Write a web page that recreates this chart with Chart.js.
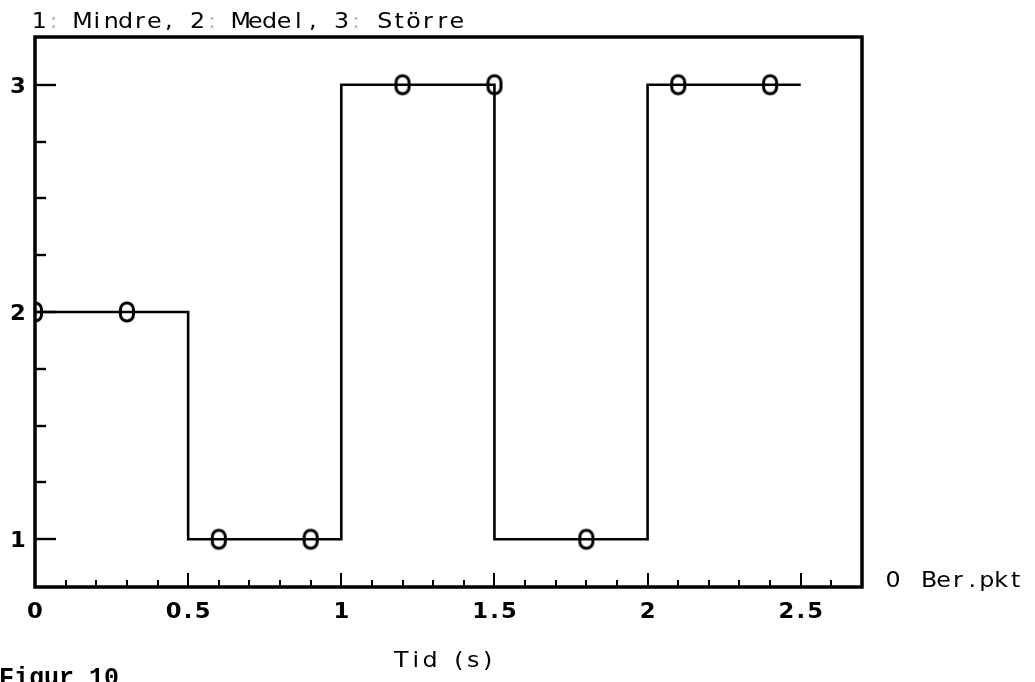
<!DOCTYPE html>
<html>
<head>
<meta charset="utf-8">
<script src="https://cdn.jsdelivr.net/npm/chart.js@4/dist/chart.umd.min.js"></script>
<style>
  html, body { margin: 0; padding: 0; background: #fff; }
  #wrap { width: 1035px; height: 682px; position: relative; }
</style>
</head>
<body>
<div id="wrap"><canvas id="c" width="1035" height="682"></canvas></div>
<script>
// Step signal: level 1 = Mindre, 2 = Medel, 3 = Större
const stepTimes  = [0, 0.5, 1, 1.5, 2, 2.5];
const stepLevels = [2, 1, 3, 1, 3, 3];

// Computed points ("Ber.pkt")
const pointTimes  = [0, 0.3, 0.6, 0.9, 1.2, 1.5, 1.8, 2.1, 2.4];
const pointLevels = [2, 2, 1, 1, 3, 3, 1, 3, 3];

// Axis ticks
const xTickValues = [0, 0.5, 1, 1.5, 2, 2.5];
const xTickLabels = ['0', '0.5', '1', '1.5', '2', '2.5'];
const yTickValues = [1, 2, 3];
const yTickLabels = ['1', '2', '3'];

const titleText  = '1: Mindre, 2: Medel, 3: Större';
const xTitleText = 'Tid (s)';
const legendText = 'Ber.pkt';
const figText    = 'Figur 10';

const FONT_LIGHT = '22px "DejaVu Sans"';
const FONT_BOLD  = 'bold 21px "DejaVu Sans"';
const CELL = 14.4;
const STRETCH = 1.08;

// Plotter-style text: every character sits in a fixed-width cell, slightly widened
function cellText(ctx, text, x, y, align, faintColons) {
  const total = text.length * CELL;
  const x0 = align === 'center' ? x - total / 2 : align === 'right' ? x - total : x;
  ctx.textAlign = 'center';
  for (let i = 0; i < text.length; i++) {
    const ch = text[i];
    ctx.fillStyle = (faintColons && ch === ':') ? '#b8b8b8' : '#000';
    ctx.save();
    ctx.translate(x0 + CELL * i + CELL / 2, y);
    ctx.scale(STRETCH, 1);
    ctx.fillText(ch, 0, 0);
    ctx.restore();
  }
}

// Marker: rounded "0" outline
function makeMarker() {
  const m = document.createElement('canvas');
  m.width = 18; m.height = 24;
  const g = m.getContext('2d');
  g.strokeStyle = '#000';
  g.lineWidth = 3;
  g.beginPath();
  g.roundRect(2.5, 3, 13, 18, 6.3);
  g.stroke();
  return m;
}

const framePlugin = {
  id: 'frame',
  afterDatasetsDraw(chart) {
    const { ctx, chartArea: a, scales: { x, y } } = chart;
    ctx.save();
    ctx.strokeStyle = '#000';
    ctx.lineCap = 'butt';

    // x ticks pointing up into the plot, minor every 0.1
    ctx.lineWidth = 2;
    for (let k = 1; k <= 26; k++) {
      const v = k / 10;
      const px = Math.round(x.getPixelForValue(v));
      const len = (k % 5 === 0) ? 14 : 7;
      ctx.beginPath();
      ctx.moveTo(px, a.bottom);
      ctx.lineTo(px, a.bottom - len);
      ctx.stroke();
    }
    // y ticks pointing right, minor every 0.25
    ctx.lineWidth = 2.4;
    for (let k = 0; k <= 8; k++) {
      const v = 1 + k * 0.25;
      const py = Math.round(y.getPixelForValue(v));
      const len = (k % 4 === 0) ? 21 : 11;
      ctx.beginPath();
      ctx.moveTo(a.left, py);
      ctx.lineTo(a.left + len, py);
      ctx.stroke();
    }

    // frame
    ctx.lineWidth = 3.5;
    ctx.strokeRect(a.left, a.top, a.right - a.left, a.bottom - a.top);

    // tick labels
    ctx.font = FONT_BOLD;
    ctx.textBaseline = 'alphabetic';
    xTickValues.forEach((v, i) => {
      cellText(ctx, xTickLabels[i], x.getPixelForValue(v), a.bottom + 31, 'center');
    });
    yTickValues.forEach((v, i) => {
      cellText(ctx, yTickLabels[i], 18, y.getPixelForValue(v) + 8, 'center');
    });

    // titles
    ctx.font = FONT_LIGHT;
    cellText(ctx, titleText, a.left - 3, 28, 'left', true);
    cellText(ctx, xTitleText, (a.left + a.right) / 2 - 4, 667, 'center');

    // legend
    cellText(ctx, '0', 893, a.bottom, 'center');
    cellText(ctx, legendText, 922, a.bottom, 'left');

    // figure caption
    ctx.font = 'bold 25px "Liberation Mono"';
    ctx.textAlign = 'left';
    ctx.fillStyle = '#000';
    ctx.fillText(figText, -1, 685);
    ctx.restore();
  }
};

new Chart(document.getElementById('c'), {
  type: 'scatter',
  data: {
    datasets: [
      {
        data: stepTimes.map((t, i) => ({ x: t, y: stepLevels[i] })),
        showLine: true,
        stepped: 'before',
        borderColor: '#000',
        borderWidth: 2.6,
        pointRadius: 0,
        order: 2
      },
      {
        data: pointTimes.map((t, i) => ({ x: t, y: pointLevels[i] })),
        showLine: false,
        pointStyle: makeMarker(),
        pointRadius: 8,
        order: 1
      }
    ]
  },
  options: {
    responsive: false,
    animation: false,
    events: [],
    layout: { padding: { left: 0, top: 37, right: 173, bottom: 0 } },
    plugins: { legend: { display: false }, tooltip: { enabled: false } },
    scales: {
      x: {
        type: 'linear', min: 0, max: 2.7,
        grid: { display: false }, border: { display: false },
        ticks: { display: false },
        afterFit(s) { s.height = 95; }
      },
      y: {
        type: 'linear', min: 0.79, max: 3.21,
        grid: { display: false }, border: { display: false },
        ticks: { display: false },
        afterFit(s) { s.width = 35; }
      }
    }
  },
  plugins: [framePlugin]
});
</script>
</body>
</html>
